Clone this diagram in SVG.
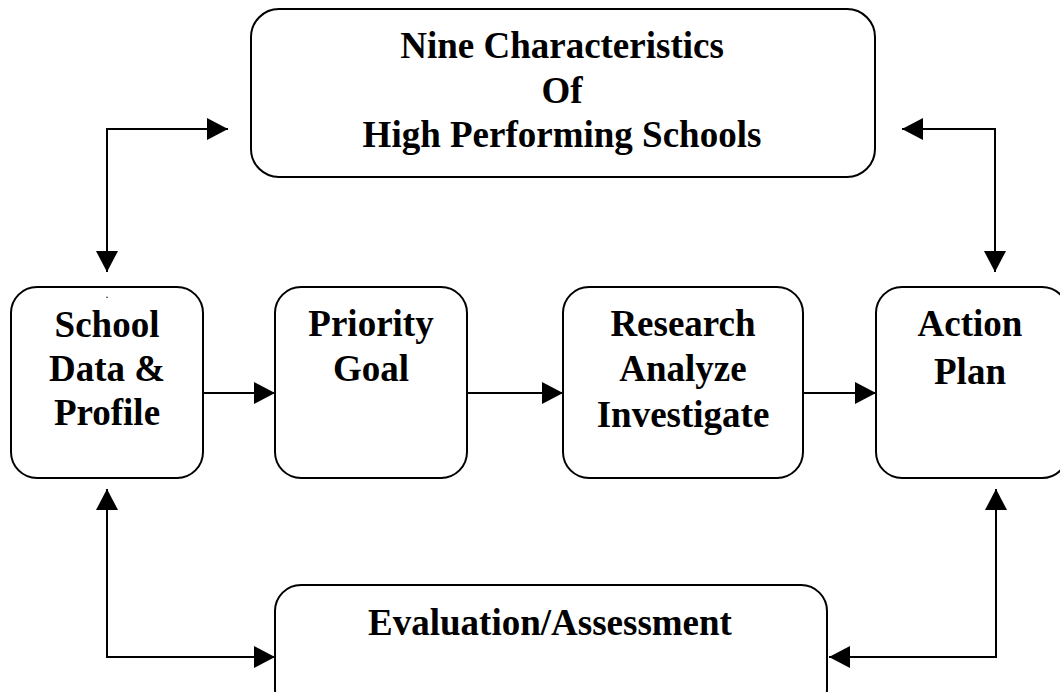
<svg xmlns="http://www.w3.org/2000/svg" width="1060" height="692" viewBox="0 0 1060 692">
<style>
.box{fill:#fff;stroke:#000;stroke-width:2}
.lbl{font-family:"Liberation Serif","Times New Roman",serif;font-weight:bold;font-size:37px;fill:#000;text-anchor:middle}
.con{fill:none;stroke:#000;stroke-width:2}
</style>
<defs>
<marker id="ah" markerUnits="userSpaceOnUse" markerWidth="22" markerHeight="24" refX="21" refY="11" orient="auto-start-reverse" viewBox="0 0 22 22">
<path d="M0,0 L21,11 L0,22 z" fill="#000"/>
</marker>
</defs>
<rect width="1060" height="692" fill="#fff"/>
<g id="connectors">
<path class="con" d="M228,129 H107 V272" marker-start="url(#ah)" marker-end="url(#ah)"/>
<path class="con" d="M902,129 H995 V272" marker-start="url(#ah)" marker-end="url(#ah)"/>
<path class="con" d="M107,489 V657 H275" marker-start="url(#ah)" marker-end="url(#ah)"/>
<path class="con" d="M996,489 V657 H829" marker-start="url(#ah)" marker-end="url(#ah)"/>
<path class="con" d="M203,393 H275" marker-end="url(#ah)"/>
<path class="con" d="M467,393 H563" marker-end="url(#ah)"/>
<path class="con" d="M803,393 H876" marker-end="url(#ah)"/>
</g>
<g id="nine">
<rect class="box" x="251" y="9" width="624" height="168" rx="28" ry="28"/>
<text class="lbl" x="562" y="58">Nine Characteristics</text>
<text class="lbl" x="562" y="103">Of</text>
<text class="lbl" x="562" y="147">High Performing Schools</text>
</g>
<g id="school">
<rect class="box" x="11" y="287" width="192" height="191" rx="26" ry="26"/>
<text x="107" y="298" font-family="Liberation Serif, serif" font-size="12" text-anchor="middle">.</text>
<text class="lbl" x="107" y="337">School</text>
<text class="lbl" x="107" y="381">Data &amp;</text>
<text class="lbl" x="107" y="425">Profile</text>
</g>
<g id="priority">
<rect class="box" x="275" y="287" width="192" height="191" rx="26" ry="26"/>
<text class="lbl" x="371" y="336">Priority</text>
<text class="lbl" x="371" y="381">Goal</text>
</g>
<g id="research">
<rect class="box" x="563" y="287" width="240" height="191" rx="26" ry="26"/>
<text class="lbl" x="683" y="336">Research</text>
<text class="lbl" x="683" y="381">Analyze</text>
<text class="lbl" x="683" y="427">Investigate</text>
</g>
<g id="action">
<rect class="box" x="876" y="287" width="192" height="191" rx="26" ry="26"/>
<text class="lbl" x="970" y="336">Action</text>
<text class="lbl" x="970" y="384">Plan</text>
</g>
<g id="evaluation">
<rect class="box" x="275" y="585" width="552" height="130" rx="26" ry="26"/>
<text class="lbl" x="550" y="635">Evaluation/Assessment</text>
</g>
</svg>
